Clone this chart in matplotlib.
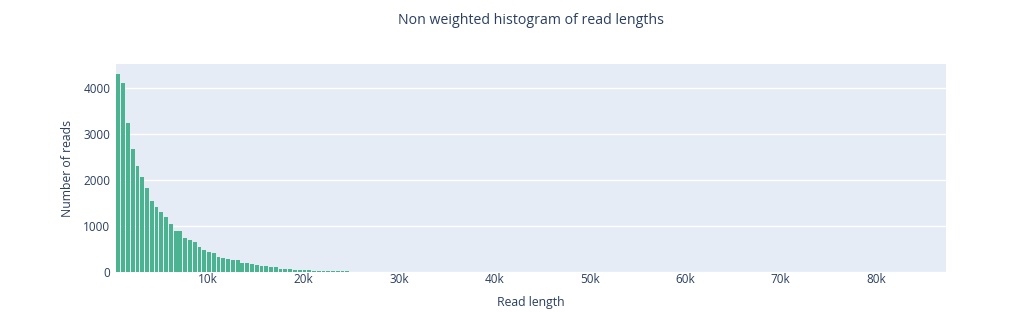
import matplotlib.pyplot as plt
import numpy as np

# histogram counts per 500 bp bin
bin_start = 325
bin_width = 500
counts = [4297, 4101, 3232, 2667, 2297, 2058, 1833, 1543, 1420, 1312,
          1188, 1036, 891, 891, 746, 688, 652, 551, 471, 435,
          406, 319, 312, 283, 261, 254, 196, 188, 167, 145,
          138, 130, 101, 109, 58, 58, 58, 50, 36, 40,
          36, 30, 28, 25, 22, 20, 18, 15, 12, 10,
          8, 7, 6, 5, 4, 3, 3, 2, 2, 2,
          1, 1, 1, 1, 0, 1, 0, 1, 0, 0]
x_max = 87325

title = "Non weighted histogram of read lengths"
x_label = "Read length"
y_label = "Number of reads"
x_ticks = [10000, 20000, 30000, 40000, 50000, 60000, 70000, 80000]
x_ticklabels = ["10k", "20k", "30k", "40k", "50k", "60k", "70k", "80k"]
y_ticks = [0, 1000, 2000, 3000, 4000]

plt.rcParams['font.family'] = ['Open Sans', 'DejaVu Sans']
txt = '#2a3f5f'

fig = plt.figure(figsize=(10.12, 3.12), dpi=100)
ax = fig.add_axes([116 / 1012, 1 - 272 / 312, 830 / 1012, 208 / 312])
ax.set_facecolor('#E5ECF6')

edges = bin_start + bin_width * np.arange(len(counts))
gap = 0.2 * bin_width
ax.bar(edges + gap / 2, counts, width=bin_width - gap, align='edge',
       color='#4CB391', edgecolor='none', zorder=3)

ax.set_xlim(bin_start, x_max)
ax.set_ylim(0, max(counts) * 1.052)
ax.set_xticks(x_ticks)
ax.set_xticklabels(x_ticklabels)
ax.set_yticks(y_ticks)
ax.grid(axis='y', color='white', linewidth=1, zorder=1)
for s in ax.spines.values():
    s.set_visible(False)
ax.tick_params(length=0, labelsize=8.5, colors=txt)
ax.tick_params(axis='x', pad=1)
ax.tick_params(axis='y', pad=4)

ax.set_xlabel(x_label, fontsize=8.8, color=txt, labelpad=7)
ax.set_ylabel(y_label, fontsize=8.8, color=txt, labelpad=7)
fig.text(531 / 1012, 1 - 20 / 312, title, ha='center', va='center',
         fontsize=10.2, color=txt)

fig.savefig('out.png', dpi=100)
